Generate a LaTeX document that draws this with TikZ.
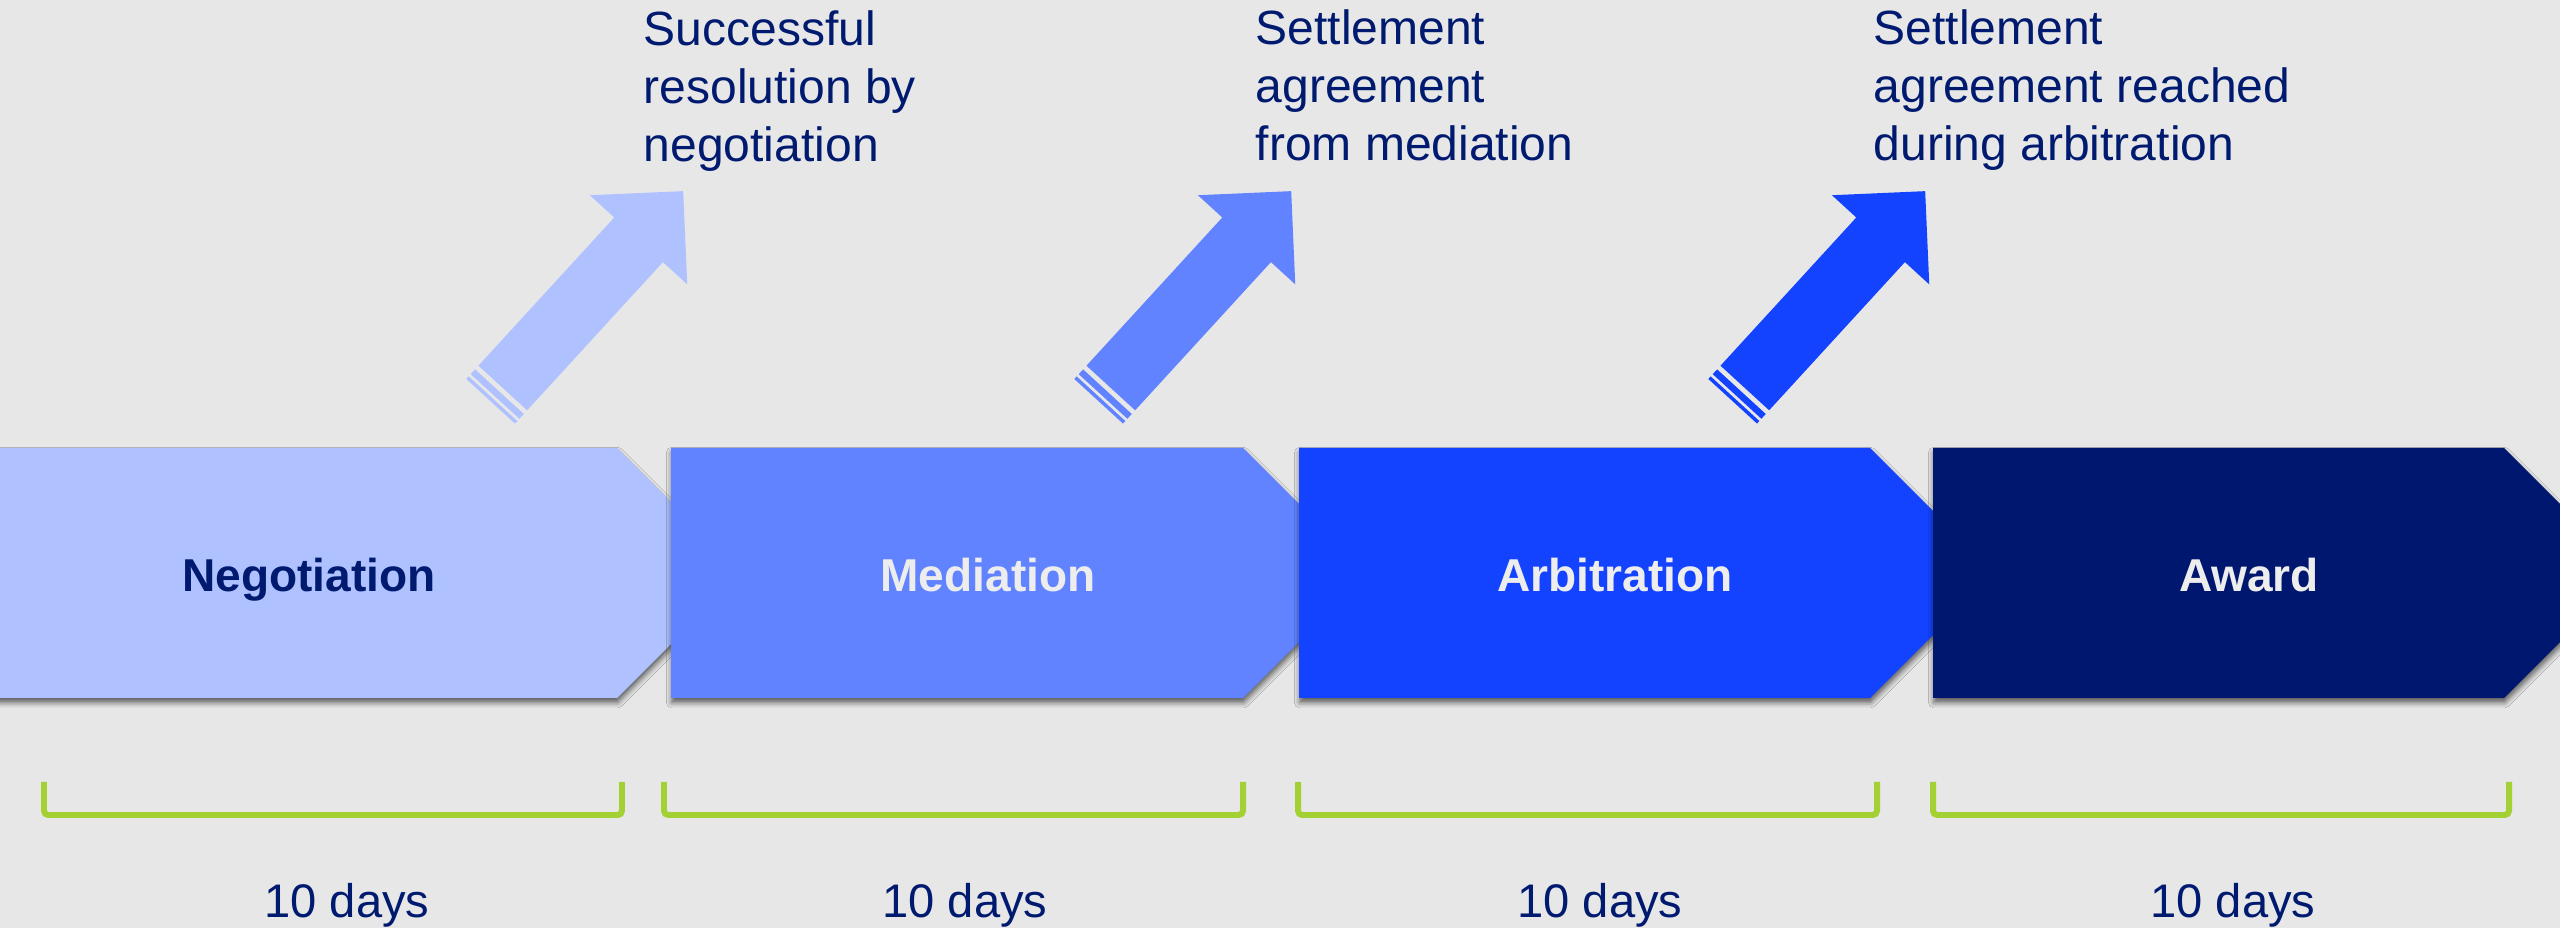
\documentclass[tikz,border=0pt]{standalone}
\usepackage{fontspec}
\setmainfont{Liberation Sans}
\usetikzlibrary{shadows.blur}
\definecolor{bgc}{HTML}{E7E7E7}
\definecolor{cA}{HTML}{B0C1FF}
\definecolor{cB}{HTML}{6183FF}
\definecolor{cC}{HTML}{1443FF}
\definecolor{cD}{HTML}{00176F}
\definecolor{navy}{HTML}{001A70}
\definecolor{lighttxt}{HTML}{EDEDED}
\definecolor{lime}{HTML}{A3D133}
\tikzset{
  stage/.style={blur shadow={shadow xshift=0.2pt, shadow yshift=-1.3pt, shadow blur radius=1.5pt, shadow opacity=60}},
  stagelabel/.style={anchor=base, inner sep=0pt, font=\fontsize{13.1pt}{15pt}\selectfont\bfseries},
  outcome/.style={anchor=base west, inner sep=0pt, text=navy},
  daylabel/.style={anchor=base, inner sep=0pt, text=navy, font=\fontsize{13.4pt}{15pt}\selectfont},
  bracketline/.style={draw=lime, line width=1.7pt, rounded corners=1.2pt},
}
\newcommand{\outtext}[1]{\parbox[t]{8cm}{\fontsize{13.66pt}{16.4pt}\selectfont\raggedright #1}}
\newcommand{\exitarrow}[2]{%
  \begin{scope}[shift={(#1)}, rotate=47.5]
    \fill[#2] (0,-33) -- (201,-33) -- (201,-66) -- (267,0) -- (201,66) -- (201,33) -- (0,33) -- cycle;
    \fill[#2] (-11.5,-33) rectangle (-5,33);
    \fill[#2] (-18,-33) rectangle (-14.5,33);
  \end{scope}}
\begin{document}
\begin{tikzpicture}[x=0.01cm, y=-0.01cm]
\useasboundingbox (0,0) rectangle (2560,928);
\clip (0,0) rectangle (2560,928);
\fill[bgc] (0,0) rectangle (2560,928);

% stages
\fill[cA, stage] (-30,448) -- (617,448) -- (742,573) -- (617,698) -- (-30,698) -- cycle;
\fill[cB, stage] (671,448) -- (1243,448) -- (1368,573) -- (1243,698) -- (671,698) -- cycle;
\fill[cC, stage] (1299,448) -- (1870,448) -- (1995,573) -- (1870,698) -- (1299,698) -- cycle;
\fill[cD, stage] (1933,448) -- (2504,448) -- (2629,573) -- (2504,698) -- (1933,698) -- cycle;

\node[stagelabel, text=navy] (neg) at (309,592) {Negotiation};
\node[stagelabel, text=lighttxt] (med) at (988,592) {Mediation};
\node[stagelabel, text=lighttxt] (arb) at (1615,592) {Arbitration};
\node[stagelabel, text=lighttxt] (awd) at (2249,592) {Award};

% exit arrows
\exitarrow{502.8,388}{cA}
\exitarrow{1110.8,388}{cB}
\exitarrow{1744.8,388}{cC}

% outcome texts
\node[outcome] (o1) at (643,46) {\outtext{Successful\\resolution by\\negotiation}};
\node[outcome] (o2) at (1255,45) {\outtext{Settlement\\agreement\\from mediation}};
\node[outcome] (o3) at (1873,45) {\outtext{Settlement\\agreement reached\\during arbitration}};

% brackets
\draw[bracketline] (44,782) -- (44,815) -- (622,815) -- (622,782);
\draw[bracketline] (664,782) -- (664,815) -- (1243,815) -- (1243,782);
\draw[bracketline] (1298,782) -- (1298,815) -- (1877,815) -- (1877,782);
\draw[bracketline] (1933,782) -- (1933,815) -- (2509,815) -- (2509,782);

\node[daylabel] (d1) at (347,917) {10 days};
\node[daylabel] (d2) at (965,917) {10 days};
\node[daylabel] (d3) at (1600,917) {10 days};
\node[daylabel] (d4) at (2233,917) {10 days};
\end{tikzpicture}
\end{document}
